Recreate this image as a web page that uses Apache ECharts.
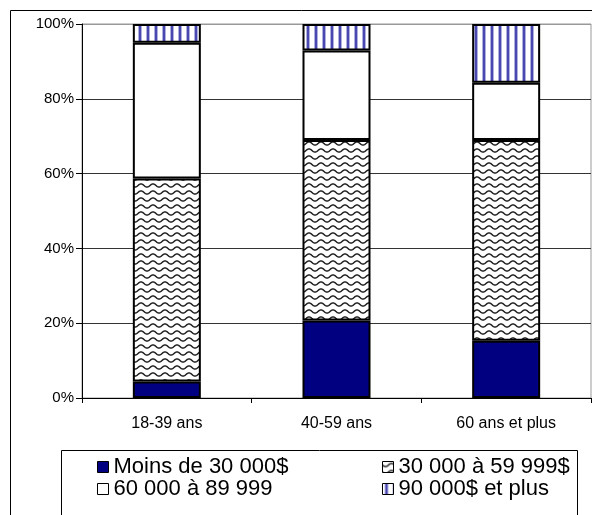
<!DOCTYPE html>
<html>
<head>
<meta charset="utf-8">
<script src="https://cdn.jsdelivr.net/npm/echarts@6/dist/echarts.min.js"></script>
<style>
html,body{margin:0;padding:0;background:#fff;}
#c{width:592px;height:515px;}
</style>
</head>
<body>
<div id="c"></div>
<script>
const categories = ['18-39 ans', '40-59 ans', '60 ans et plus'];
const seriesNames = ['Moins de 30 000$', '30 000 à 59 999$', '60 000 à 89 999', '90 000$ et plus'];
const moins30 = [4.4, 20.7, 15.3];
const de30a60 = [54.3, 48.3, 53.7];
const de60a90 = [36.3, 23.9, 15.3];
const plus90 = [5.0, 7.1, 15.7];
const yTicks = [0, 20, 40, 60, 80, 100];

function wavePattern() {
  const w = 12, h = 7;
  const c = document.createElement('canvas');
  c.width = w; c.height = h;
  const g = c.getContext('2d');
  g.fillStyle = '#fff'; g.fillRect(0, 0, w, h);
  g.strokeStyle = '#222'; g.lineWidth = 1.5;
  g.beginPath();
  for (let x = -1; x <= w + 1; x += 0.5) {
    const y = 3.5 + 1.6 * Math.sin(2 * Math.PI * x / w);
    if (x === -1) g.moveTo(x, y); else g.lineTo(x, y);
  }
  g.stroke();
  return c;
}
function stripePattern() {
  const c = document.createElement('canvas');
  c.width = 8; c.height = 8;
  const g = c.getContext('2d');
  g.fillStyle = '#fff'; g.fillRect(0, 0, 8, 8);
  g.fillStyle = '#b0b0e0'; g.fillRect(2, 0, 4, 8);
  g.fillStyle = '#4848b0'; g.fillRect(3, 0, 2, 8);
  return c;
}

const chart = echarts.init(document.getElementById('c'), null, {renderer: 'canvas'});
const fills = [
  '#000080',
  {image: wavePattern(), repeat: 'repeat'},
  '#ffffff',
  {image: stripePattern(), repeat: 'repeat'}
];
const datas = [moins30, de30a60, de60a90, plus90];
const legendPos = [[97, 456], [382, 456], [97, 478], [382, 478]];
const legendFont = 'Liberation Sans, Arial, sans-serif';

chart.setOption({
  animation: false,
  backgroundColor: '#fff',
  grid: {left: 82, right: 1, top: 24, bottom: 117, show: true, borderColor: '#999', borderWidth: 1},
  xAxis: {
    type: 'category',
    data: categories,
    axisLine: {lineStyle: {color: '#000', width: 1}},
    axisTick: {show: true, length: 5, lineStyle: {color: '#000'}},
    axisLabel: {color: '#000', fontSize: 16, fontFamily: 'Liberation Sans, Arial, sans-serif', margin: 18}
  },
  yAxis: {
    type: 'value',
    min: yTicks[0], max: yTicks[yTicks.length - 1], interval: 20,
    axisLine: {show: true, lineStyle: {color: '#000', width: 1}},
    axisTick: {show: true, length: 6, lineStyle: {color: '#000'}},
    axisLabel: {color: '#000', fontSize: 15, fontFamily: 'Liberation Sans, Arial, sans-serif', margin: 8, formatter: '{value}%'},
    splitLine: {show: true, lineStyle: {color: ['#333', '#333', '#333', '#333', '#333', '#999'], width: 1}}
  },
  legend: seriesNames.map((n, i) => ({
    data: [n],
    left: legendPos[i][0], top: legendPos[i][1],
    padding: 0,
    itemWidth: 11, itemHeight: 11,
    icon: 'rect',
    itemStyle: {borderColor: '#000', borderWidth: 1},
    textStyle: {fontSize: 22, fontFamily: legendFont, color: '#000', lineHeight: 22}
  })),
  graphic: [
    {type: 'rect', shape: {x: 10.5, y: 10.5, width: 640, height: 640}, style: {fill: 'none', stroke: '#000', lineWidth: 1}, silent: true, z: -1},
    {type: 'rect', shape: {x: 61.5, y: 450.5, width: 516, height: 120}, style: {fill: 'none', stroke: '#000', lineWidth: 1}, silent: true}
  ],
  series: seriesNames.map((n, i) => ({
    name: n,
    type: 'bar',
    stack: 'total',
    barWidth: 68,
    data: datas[i],
    itemStyle: {color: fills[i], borderColor: '#000', borderWidth: 2}
  }))
});
</script>
</body>
</html>
